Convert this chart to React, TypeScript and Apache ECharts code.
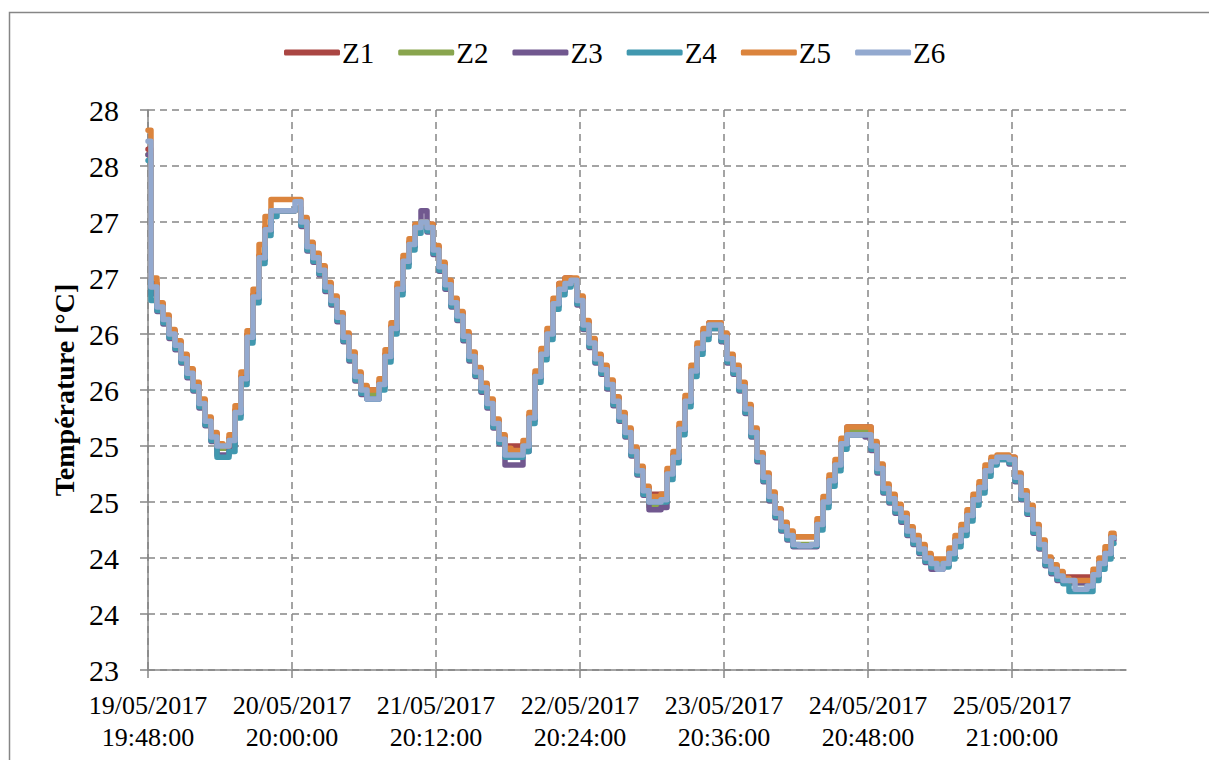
import React, { useEffect, useRef } from "react";
import * as echarts from "echarts";

// Tick labels on the time axis (one every 24 samples of 30 s)
const TICK_LABELS = [
  "19/05/2017\n19:48:00",
  "20/05/2017\n20:00:00",
  "21/05/2017\n20:12:00",
  "22/05/2017\n20:24:00",
  "23/05/2017\n20:36:00",
  "24/05/2017\n20:48:00",
  "25/05/2017\n21:00:00",
];
const SAMPLES_PER_TICK = 24;
const CATEGORY_COUNT = 164;

const SERIES_NAMES = ["Z1", "Z2", "Z3", "Z4", "Z5", "Z6"];
const SERIES_COLORS = ["#AA4643", "#89A54E", "#71588F", "#4198AF", "#DB843D", "#93A9CF"];

const Z1 = [
  27.65, 26.45, 26.27, 26.16, 26.03, 25.93, 25.81, 25.68, 25.56, 25.41,
  25.25, 25.11, 25.0, 25.0, 25.07, 25.32, 25.62, 25.99, 26.35, 26.7,
  26.95, 27.1, 27.1, 27.1, 27.1, 27.12, 27.03, 26.81, 26.71, 26.6,
  26.45, 26.33, 26.18, 26.0, 25.83, 25.65, 25.53, 25.5, 25.5, 25.57,
  25.82, 26.07, 26.42, 26.67, 26.82, 26.97, 27.0, 26.98, 26.78, 26.63,
  26.47, 26.31, 26.19, 26.01, 25.83, 25.69, 25.55, 25.41, 25.23, 25.09,
  25.0, 25.0, 25.0, 25.02, 25.27, 25.64, 25.84, 26.02, 26.29, 26.45,
  26.5, 26.48, 26.33, 26.11, 25.95, 25.81, 25.71, 25.58, 25.43, 25.29,
  25.15, 24.98, 24.81, 24.63, 24.57, 24.57, 24.57, 24.77, 24.92, 25.17,
  25.42, 25.69, 25.89, 26.02, 26.1, 26.1, 26.0, 25.81, 25.71, 25.56,
  25.36, 25.15, 24.93, 24.75, 24.58, 24.43, 24.31, 24.23, 24.19, 24.19,
  24.19, 24.19, 24.32, 24.52, 24.71, 24.85, 25.04, 25.17, 25.17, 25.17,
  25.17, 25.03, 24.83, 24.65, 24.56, 24.47, 24.39, 24.27, 24.19, 24.11,
  24.03, 23.97, 23.95, 23.97, 24.06, 24.17, 24.27, 24.4, 24.54, 24.65,
  24.8, 24.88, 24.9, 24.9, 24.9, 24.75, 24.59, 24.46, 24.29, 24.15,
  24.0, 23.93, 23.87, 23.83, 23.83, 23.83, 23.83, 23.83, 23.87, 23.97,
  24.06, 24.2,
];
const Z2 = [
  27.6, 26.4, 26.24, 26.13, 26.0, 25.9, 25.78, 25.65, 25.53, 25.38,
  25.22, 25.08, 24.98, 24.98, 25.05, 25.3, 25.6, 25.97, 26.33, 26.68,
  26.93, 27.1, 27.1, 27.1, 27.1, 27.12, 27.0, 26.78, 26.68, 26.57,
  26.42, 26.3, 26.15, 25.97, 25.8, 25.62, 25.5, 25.46, 25.46, 25.55,
  25.8, 26.05, 26.4, 26.65, 26.8, 26.95, 27.0, 26.95, 26.75, 26.6,
  26.44, 26.28, 26.16, 25.98, 25.8, 25.66, 25.52, 25.38, 25.2, 25.06,
  24.94, 24.94, 24.94, 25.0, 25.25, 25.62, 25.82, 26.0, 26.27, 26.4,
  26.45, 26.45, 26.3, 26.08, 25.92, 25.78, 25.68, 25.55, 25.4, 25.26,
  25.12, 24.95, 24.78, 24.6, 24.46, 24.46, 24.5, 24.75, 24.9, 25.15,
  25.4, 25.67, 25.87, 26.0, 26.08, 26.08, 25.97, 25.78, 25.68, 25.53,
  25.33, 25.12, 24.9, 24.72, 24.55, 24.4, 24.28, 24.2, 24.12, 24.12,
  24.12, 24.12, 24.3, 24.5, 24.69, 24.83, 25.02, 25.15, 25.15, 25.15,
  25.12, 25.0, 24.8, 24.62, 24.53, 24.44, 24.36, 24.24, 24.16, 24.08,
  24.0, 23.95, 23.95, 23.95, 24.04, 24.15, 24.25, 24.38, 24.52, 24.63,
  24.78, 24.86, 24.9, 24.9, 24.88, 24.72, 24.56, 24.43, 24.26, 24.12,
  23.97, 23.9, 23.84, 23.8, 23.78, 23.78, 23.78, 23.78, 23.85, 23.95,
  24.04, 24.18,
];
const Z3 = [
  27.6, 26.36, 26.2, 26.09, 25.96, 25.86, 25.74, 25.61, 25.49, 25.34,
  25.18, 25.04, 24.92, 24.92, 25.0, 25.28, 25.58, 25.95, 26.31, 26.66,
  26.91, 27.1, 27.1, 27.1, 27.1, 27.12, 26.96, 26.74, 26.64, 26.53,
  26.38, 26.26, 26.11, 25.93, 25.76, 25.58, 25.46, 25.42, 25.42, 25.53,
  25.78, 26.03, 26.38, 26.63, 26.78, 26.95, 27.1, 26.91, 26.71, 26.56,
  26.4, 26.24, 26.12, 25.94, 25.76, 25.62, 25.48, 25.34, 25.16, 25.02,
  24.83, 24.83, 24.83, 24.95, 25.23, 25.6, 25.8, 25.98, 26.25, 26.38,
  26.45, 26.45, 26.26, 26.04, 25.88, 25.74, 25.64, 25.51, 25.36, 25.22,
  25.08, 24.91, 24.74, 24.56, 24.43, 24.43, 24.45, 24.73, 24.88, 25.13,
  25.38, 25.65, 25.85, 25.98, 26.05, 26.05, 25.93, 25.74, 25.64, 25.49,
  25.29, 25.08, 24.86, 24.68, 24.51, 24.36, 24.24, 24.16, 24.1, 24.1,
  24.1, 24.1, 24.28, 24.48, 24.67, 24.81, 25.0, 25.1, 25.1, 25.1,
  25.08, 24.96, 24.76, 24.58, 24.49, 24.4, 24.32, 24.2, 24.12, 24.04,
  23.96, 23.9, 23.9, 23.93, 24.02, 24.13, 24.23, 24.36, 24.5, 24.61,
  24.76, 24.84, 24.88, 24.88, 24.84, 24.68, 24.52, 24.39, 24.22, 24.08,
  23.93, 23.86, 23.8, 23.78, 23.78, 23.78, 23.78, 23.76, 23.83, 23.93,
  24.02, 24.16,
];
const Z4 = [
  27.55, 26.3, 26.21, 26.1, 25.97, 25.87, 25.75, 25.62, 25.5, 25.35,
  25.19, 25.05, 24.9, 24.9, 24.95, 25.25, 25.55, 25.92, 26.28, 26.63,
  26.88, 27.05, 27.1, 27.1, 27.1, 27.12, 26.97, 26.75, 26.65, 26.54,
  26.39, 26.27, 26.12, 25.94, 25.77, 25.59, 25.47, 25.42, 25.42, 25.5,
  25.75, 26.0, 26.35, 26.6, 26.75, 26.9, 27.0, 26.92, 26.72, 26.57,
  26.41, 26.25, 26.13, 25.95, 25.77, 25.63, 25.49, 25.35, 25.17, 25.03,
  24.9, 24.9, 24.9, 24.95, 25.2, 25.57, 25.77, 25.95, 26.22, 26.35,
  26.42, 26.45, 26.27, 26.05, 25.89, 25.75, 25.65, 25.52, 25.37, 25.23,
  25.09, 24.92, 24.75, 24.57, 24.5, 24.5, 24.5, 24.7, 24.85, 25.1,
  25.35, 25.62, 25.82, 25.95, 26.05, 26.05, 25.94, 25.75, 25.65, 25.5,
  25.3, 25.09, 24.87, 24.69, 24.52, 24.37, 24.25, 24.17, 24.11, 24.11,
  24.11, 24.11, 24.25, 24.45, 24.64, 24.78, 24.97, 25.1, 25.1, 25.1,
  25.1, 24.97, 24.77, 24.59, 24.5, 24.41, 24.33, 24.21, 24.13, 24.05,
  23.97, 23.92, 23.92, 23.92, 23.99, 24.1, 24.2, 24.33, 24.47, 24.58,
  24.73, 24.83, 24.88, 24.88, 24.85, 24.69, 24.53, 24.4, 24.23, 24.09,
  23.94, 23.87, 23.81, 23.77, 23.7, 23.7, 23.7, 23.7, 23.8, 23.9,
  23.99, 24.13,
];
const Z5 = [
  27.82, 26.5, 26.28, 26.17, 26.04, 25.94, 25.82, 25.69, 25.57, 25.42,
  25.26, 25.12, 25.02, 25.0, 25.1, 25.36, 25.66, 26.03, 26.4, 26.8,
  27.05, 27.2, 27.2, 27.2, 27.2, 27.2, 27.04, 26.82, 26.72, 26.61,
  26.46, 26.34, 26.19, 26.01, 25.84, 25.66, 25.54, 25.5, 25.5, 25.6,
  25.86, 26.1, 26.45, 26.7, 26.85, 26.98, 27.0, 26.98, 26.79, 26.64,
  26.48, 26.32, 26.2, 26.02, 25.84, 25.7, 25.56, 25.42, 25.24, 25.1,
  24.98, 24.96, 24.96, 25.05, 25.3, 25.67, 25.87, 26.05, 26.32, 26.45,
  26.5, 26.5, 26.34, 26.12, 25.96, 25.82, 25.72, 25.59, 25.44, 25.3,
  25.16, 24.99, 24.82, 24.64, 24.55, 24.55, 24.57, 24.8, 24.95, 25.2,
  25.45, 25.72, 25.92, 26.05, 26.1, 26.1, 26.01, 25.82, 25.72, 25.57,
  25.37, 25.16, 24.94, 24.76, 24.59, 24.44, 24.32, 24.24, 24.19, 24.19,
  24.19, 24.19, 24.35, 24.55, 24.74, 24.88, 25.07, 25.17, 25.17, 25.17,
  25.17, 25.04, 24.84, 24.66, 24.57, 24.48, 24.4, 24.28, 24.2, 24.12,
  24.04, 23.99, 23.99, 23.99, 24.09, 24.2, 24.3, 24.43, 24.57, 24.68,
  24.83, 24.9, 24.92, 24.92, 24.9, 24.76, 24.6, 24.47, 24.3, 24.16,
  24.01, 23.94, 23.88, 23.82, 23.8, 23.8, 23.8, 23.8, 23.9, 24.0,
  24.1, 24.22,
];
const Z6 = [
  27.72, 26.42, 26.24, 26.13, 26.0, 25.9, 25.78, 25.65, 25.53, 25.38,
  25.22, 25.08, 25.0, 25.0, 25.05, 25.3, 25.6, 25.97, 26.33, 26.68,
  26.93, 27.1, 27.1, 27.1, 27.1, 27.18, 27.0, 26.78, 26.68, 26.57,
  26.42, 26.3, 26.15, 25.97, 25.8, 25.62, 25.5, 25.42, 25.42, 25.55,
  25.8, 26.05, 26.4, 26.65, 26.8, 26.95, 27.0, 26.95, 26.75, 26.6,
  26.44, 26.28, 26.16, 25.98, 25.8, 25.66, 25.52, 25.38, 25.2, 25.06,
  24.92, 24.92, 24.92, 25.0, 25.25, 25.62, 25.82, 26.0, 26.27, 26.4,
  26.45, 26.48, 26.3, 26.08, 25.92, 25.78, 25.68, 25.55, 25.4, 25.26,
  25.12, 24.95, 24.78, 24.6, 24.5, 24.5, 24.52, 24.75, 24.9, 25.15,
  25.4, 25.67, 25.87, 26.0, 26.08, 26.08, 25.97, 25.78, 25.68, 25.53,
  25.33, 25.12, 24.9, 24.72, 24.55, 24.4, 24.28, 24.2, 24.12, 24.11,
  24.11, 24.12, 24.3, 24.5, 24.69, 24.83, 25.02, 25.1, 25.1, 25.1,
  25.1, 25.0, 24.8, 24.62, 24.53, 24.44, 24.36, 24.24, 24.16, 24.08,
  24.0, 23.95, 23.9, 23.95, 24.04, 24.15, 24.25, 24.38, 24.52, 24.63,
  24.78, 24.86, 24.9, 24.9, 24.88, 24.72, 24.56, 24.43, 24.26, 24.12,
  23.97, 23.9, 23.84, 23.8, 23.8, 23.72, 23.72, 23.75, 23.85, 23.95,
  24.04, 24.18,
];
const SERIES_DATA = [Z1, Z2, Z3, Z4, Z5, Z6];

const FONT = "Liberation Serif, Times New Roman, serif";
const GRID_COLOR = "#868686";

export default function App() {
  const ref = useRef<HTMLDivElement>(null);

  useEffect(() => {
    if (!ref.current) return;
    const chart = echarts.init(ref.current, null, { renderer: "svg" });

    const categories = Array.from({ length: CATEGORY_COUNT }, (_, i) =>
      i % SAMPLES_PER_TICK === 0 && TICK_LABELS[i / SAMPLES_PER_TICK]
        ? TICK_LABELS[i / SAMPLES_PER_TICK]
        : String(i)
    );

    const option = {
      animation: false,
      backgroundColor: "#ffffff",
      textStyle: { fontFamily: FONT },
      graphic: [
        {
          type: "rect",
          z: -10,
          shape: { x: 9.5, y: 12.5, width: 1300, height: 900 },
          style: { fill: "none", stroke: GRID_COLOR, lineWidth: 1.5 },
          silent: true,
        },
      ],
      legend: {
        left: 279,
        top: 33,
        itemWidth: 56,
        itemHeight: 6,
        itemGap: 24,
        icon: "roundRect",
        textStyle: { fontFamily: FONT, fontSize: 29, color: "#000", lineHeight: 29, padding: [0, 0, 0, -3] },
        data: SERIES_NAMES,
      },
      grid: { left: 148, right: 83, top: 110, bottom: 90, containLabel: false },
      xAxis: {
        type: "category",
        boundaryGap: false,
        data: categories,
        axisLine: { show: true, lineStyle: { color: GRID_COLOR, width: 1.5 } },
        axisTick: {
          show: true,
          interval: SAMPLES_PER_TICK - 1,
          length: 8,
          lineStyle: { color: GRID_COLOR, width: 1.5 },
        },
        axisLabel: {
          interval: SAMPLES_PER_TICK - 1,
          fontFamily: FONT,
          fontSize: 26,
          lineHeight: 32,
          color: "#000",
          margin: 19,
        },
        splitLine: {
          show: true,
          interval: SAMPLES_PER_TICK - 1,
          lineStyle: { color: GRID_COLOR, width: 1.5, type: [7, 5] },
        },
      },
      yAxis: {
        type: "value",
        min: 23,
        max: 28,
        interval: 0.5,
        name: "Température [°C]",
        nameLocation: "middle",
        nameGap: 68,
        nameTextStyle: { fontFamily: FONT, fontSize: 28, fontWeight: "bold", color: "#000" },
        axisLine: { show: true, lineStyle: { color: GRID_COLOR, width: 1.5 } },
        axisTick: { show: true, length: 8, lineStyle: { color: GRID_COLOR, width: 1.5 } },
        axisLabel: {
          fontFamily: FONT,
          fontSize: 30,
          color: "#000",
          margin: 29,
          formatter: (v: number) => String(Math.round(v)),
        },
        splitLine: { show: true, lineStyle: { color: GRID_COLOR, width: 1.5, type: [7, 5] } },
      },
      series: SERIES_NAMES.map((name, k) => ({
        name,
        type: "line",
        step: "middle",
        data: SERIES_DATA[k],
        color: SERIES_COLORS[k],
        showSymbol: false,
        symbol: "none",
        lineStyle: { width: 5.5, color: SERIES_COLORS[k], cap: "round", join: "round" },
        emphasis: { disabled: true },
      })),
    };

    chart.setOption(option as any);
    return () => chart.dispose();
  }, []);

  return (
    <div
      ref={ref}
      style={{ position: "fixed", left: 0, top: 0, width: 1209, height: 760 }}
    />
  );
}
